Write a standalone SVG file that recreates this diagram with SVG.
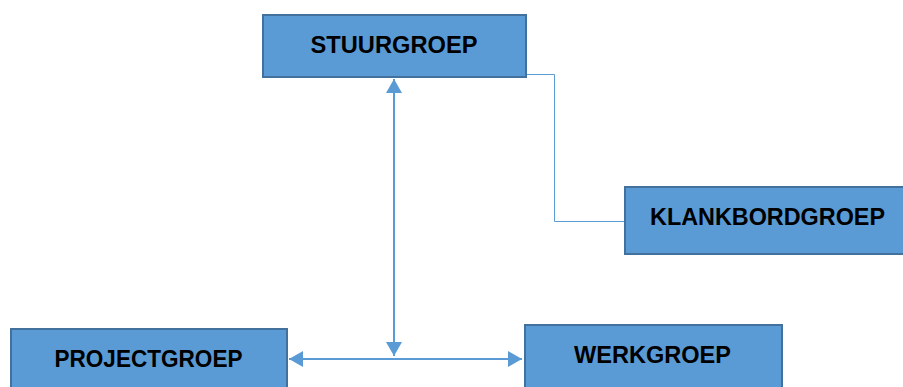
<svg xmlns="http://www.w3.org/2000/svg" width="903" height="387" viewBox="0 0 903 387">
<style>
.box{fill:#5B9BD5;stroke:#41719C;stroke-width:2}
.lbl{font-family:"Liberation Sans",Arial,sans-serif;font-weight:bold;font-size:24.5px;fill:#000;text-anchor:middle}
.c2{fill:none;stroke:#5B9BD5;stroke-width:2}
.c1{fill:none;stroke:#5B9BD5;stroke-width:1}
</style>
<defs>
<marker id="ah" markerWidth="8" markerHeight="8" refX="7" refY="4" orient="auto-start-reverse" markerUnits="strokeWidth" viewBox="0 0 8 8">
<path d="M0,0 L7,4 L0,8 Z" fill="#5B9BD5"/>
</marker>
</defs>
<rect width="903" height="387" fill="#fff"/>
<g id="connectors">
<line class="c2" x1="394" y1="79" x2="394" y2="356" marker-start="url(#ah)" marker-end="url(#ah)"/>
<line class="c2" x1="289" y1="359" x2="522" y2="359" marker-start="url(#ah)" marker-end="url(#ah)"/>
<polyline class="c1" points="526,74.5 554.5,74.5 554.5,221.5 624,221.5"/>
</g>
<g id="stuurgroep">
<rect class="box" x="263" y="15" width="263" height="62"/>
<text class="lbl" x="394" y="53" textLength="167" lengthAdjust="spacingAndGlyphs">STUURGROEP</text>
</g>
<g id="klankbordgroep">
<rect class="box" x="625" y="187" width="280" height="67"/>
<text class="lbl" x="767.5" y="225" textLength="235" lengthAdjust="spacingAndGlyphs">KLANKBORDGROEP</text>
</g>
<g id="projectgroep">
<rect class="box" x="11" y="329" width="276" height="70"/>
<text class="lbl" x="148.5" y="367" textLength="188" lengthAdjust="spacingAndGlyphs">PROJECTGROEP</text>
</g>
<g id="werkgroep">
<rect class="box" x="525" y="325" width="257" height="70"/>
<text class="lbl" x="652.5" y="363" textLength="157" lengthAdjust="spacingAndGlyphs">WERKGROEP</text>
</g>
</svg>
